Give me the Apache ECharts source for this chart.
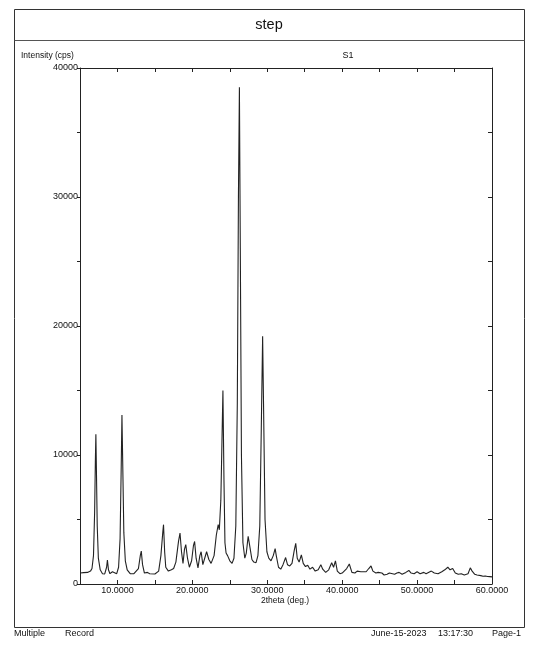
<!DOCTYPE html>
<html>
<head>
<meta charset="utf-8">
<script src="https://cdn.jsdelivr.net/npm/echarts@6/dist/echarts.min.js"></script>
<style>
html,body{margin:0;padding:0;background:#fff;}
#chart{width:534px;height:648px;}
</style>
</head>
<body>
<div id="chart"></div>
<script>
// 2theta (deg.) positions
const twoTheta = [
  5.00, 5.5, 6.0, 6.4, 6.6, 6.8, 6.95, 7.05, 7.12, 7.2, 7.3, 7.45, 7.7, 8.0, 8.3, 8.55, 8.66, 8.8, 9.0, 9.2, 9.33, 9.5,
  9.9, 10.15, 10.35, 10.5, 10.6, 10.7, 10.85, 11.05, 11.3, 11.5, 11.7, 12.2, 12.8, 13.05, 13.18, 13.35, 13.6, 14.0, 14.3, 15.0, 15.5,
  15.8, 16.05, 16.15, 16.3, 16.45, 16.6, 16.8, 17.2, 17.5, 17.8, 18.15, 18.35, 18.55, 18.75, 18.95, 19.12, 19.35, 19.6, 19.9, 20.15,
  20.3, 20.5, 20.75, 21.0, 21.17, 21.4, 21.65, 21.9, 22.02, 22.2, 22.5, 22.9, 23.2, 23.45, 23.6, 23.8, 23.95, 24.08, 24.22, 24.35,
  24.5, 24.7, 25.0, 25.3, 25.55, 25.8, 26.0, 26.15, 26.28, 26.4, 26.55, 26.75, 27.0, 27.2, 27.45, 27.55, 27.7, 27.95, 28.2, 28.5,
  28.75, 29.0, 29.2, 29.38, 29.5, 29.7, 29.95, 30.2, 30.5, 30.8, 31.05, 31.2, 31.5, 31.8, 32.1, 32.45, 32.7, 33.0, 33.3, 33.6,
  33.8, 34.0, 34.25, 34.55, 34.8, 35.1, 35.4, 35.7, 36.05, 36.4, 36.8, 37.15, 37.4, 37.8, 38.2, 38.6, 38.85, 39.1, 39.35, 39.7,
  40.0, 40.2, 40.6, 40.95, 41.3, 41.7, 42.0, 42.2, 42.5, 42.7, 43.2, 43.55, 43.85, 44.1, 44.5, 44.8, 45.0, 45.3, 45.6, 46.0, 46.3, 46.5, 47.0, 47.3, 47.6, 48.0, 48.5,
  48.9, 49.2, 49.6, 50.0, 50.4, 50.9, 51.2, 51.4, 51.9, 52.3, 52.8, 53.3, 53.7, 54.1, 54.4, 54.75, 55.1, 55.5, 55.9, 56.3, 56.8,
  57.1, 57.35, 57.7, 58.0, 58.2, 58.5, 58.8, 59.1, 59.4, 59.7, 60.0
];
// Intensity (cps)
const intensity = [
  850, 880, 900, 1000, 1200, 2200, 5500, 9500, 11600, 8500, 4500, 2000, 1100, 800, 780, 1300, 1850, 1100, 800, 950, 950, 800,
  800, 1300, 3500, 9000, 13100, 9500, 4000, 1800, 1100, 1000, 800, 800, 1200, 2200, 2550, 1500, 850, 900, 800, 780, 1000,
  2200, 4000, 4600, 2500, 1300, 1350, 1000, 1100, 1200, 1700, 3300, 3950, 2500, 1600, 2700, 3050, 2000, 1300, 1800, 3000,
  3300, 2000, 1250, 2200, 2500, 1500, 1400, 2500, 2650, 1900, 1600, 2200, 3800, 4600, 4200, 6500, 11000, 15000, 8000, 3200,
  2400, 2200, 1800, 1600, 2000, 4500, 14000, 30000, 38500, 26000, 10000, 3200, 2000, 2400, 3700, 3800, 2800, 1900, 1700, 1650,
  2200, 4500, 12000, 19200, 14000, 5000, 2500, 2000, 1800, 2200, 2750, 2200, 1300, 1150, 1500, 2050, 1500, 1400, 1600, 2600,
  3150, 2000, 1700, 2250, 1600, 1350, 1450, 1150, 1300, 1000, 1100, 1500, 1150, 900, 1100, 1650, 1300, 1800, 1000, 800,
  850, 900, 1200, 1550, 900, 850, 1000, 900, 950, 850, 950, 1200, 1400, 1000, 850, 900, 800, 850, 700, 750, 850, 800, 750, 850, 900, 750, 900,
  1050, 850, 800, 950, 800, 900, 800, 800, 1000, 850, 800, 950, 1100, 1300, 1100, 1200, 850, 750, 800, 700, 800,
  1250, 1000, 750, 700, 650, 650, 600, 620, 580, 570, 550
];
const xTicksMajor = [10, 20, 30, 40, 50, 60];
const yTicksMajor = [0, 10000, 20000, 30000, 40000];

const FONT = "'Liberation Sans', Arial, sans-serif";
const chart = echarts.init(document.getElementById('chart'), null, {renderer: 'canvas'});
const data = twoTheta.map((t, i) => [t, intensity[i]]);
const axisCol = '#222';

const option = {
  animation: false,
  backgroundColor: '#fff',
  grid: {left: 80, right: 42, top: 68, bottom: 64, containLabel: false},
  xAxis: [
    {
      type: 'value', min: 5, max: 60, interval: 5, position: 'bottom',
      axisLine: {show: true, onZero: false, lineStyle: {color: axisCol, width: 1}},
      axisTick: {show: true, inside: true, length: 4, lineStyle: {color: axisCol}},
      splitLine: {show: false},
      axisLabel: {
        margin: 2, fontSize: 9, fontFamily: FONT, color: '#111',
        formatter: v => xTicksMajor.includes(v) ? v.toFixed(4) : ''
      }
    },
    {
      type: 'value', min: 5, max: 60, interval: 5, position: 'top',
      axisLine: {show: true, onZero: false, lineStyle: {color: axisCol, width: 1}},
      axisTick: {show: true, inside: true, length: 4, lineStyle: {color: axisCol}},
      splitLine: {show: false},
      axisLabel: {show: false}
    }
  ],
  yAxis: [
    {
      type: 'value', min: 0, max: 40000, interval: 5000, position: 'left',
      axisLine: {show: true, onZero: false, lineStyle: {color: axisCol, width: 1}},
      axisTick: {show: true, inside: false, length: 3, lineStyle: {color: axisCol}},
      splitLine: {show: false},
      axisLabel: {
        margin: 2, fontSize: 9, fontFamily: FONT, color: '#111',
        formatter: v => yTicksMajor.includes(v) ? String(v) : ''
      }
    },
    {
      type: 'value', min: 0, max: 40000, interval: 5000, position: 'right',
      axisLine: {show: true, onZero: false, lineStyle: {color: axisCol, width: 1}},
      axisTick: {show: true, inside: true, length: 4, lineStyle: {color: axisCol}},
      splitLine: {show: false},
      axisLabel: {show: false}
    }
  ],
  series: [{
    type: 'line', data: data, xAxisIndex: 0, yAxisIndex: 0,
    showSymbol: false, symbol: 'none', smooth: false,
    lineStyle: {color: '#222', width: 1.1}
  }],
  graphic: [
    {type: 'rect', shape: {x: 14.5, y: 9.5, width: 510, height: 618}, style: {fill: 'none', stroke: '#333', lineWidth: 1}, silent: true},
    {type: 'line', shape: {x1: 14.5, y1: 40.5, x2: 524.5, y2: 40.5}, style: {stroke: '#555', lineWidth: 1}, silent: true},
    {type: 'text', x: 269, y: 24.5, style: {text: 'step', fontSize: 14.5, fontFamily: FONT, fill: '#111', align: 'center', verticalAlign: 'middle'}},
    {type: 'text', x: 21, y: 55.5, style: {text: 'Intensity (cps)', fontSize: 8.5, fontFamily: FONT, fill: '#111', align: 'left', verticalAlign: 'middle'}},
    {type: 'text', x: 348, y: 56, style: {text: 'S1', fontSize: 9, fontFamily: FONT, fill: '#111', align: 'center', verticalAlign: 'middle'}},
    {type: 'text', x: 285, y: 601, style: {text: '2theta (deg.)', fontSize: 8.5, fontFamily: FONT, fill: '#111', align: 'center', verticalAlign: 'middle'}},
    {type: 'text', x: 14, y: 634, style: {text: 'Multiple', fontSize: 9, fontFamily: FONT, fill: '#111', align: 'left', verticalAlign: 'middle'}},
    {type: 'text', x: 65, y: 634, style: {text: 'Record', fontSize: 9, fontFamily: FONT, fill: '#111', align: 'left', verticalAlign: 'middle'}},
    {type: 'text', x: 371, y: 634, style: {text: 'June-15-2023', fontSize: 9, fontFamily: FONT, fill: '#111', align: 'left', verticalAlign: 'middle'}},
    {type: 'text', x: 438, y: 634, style: {text: '13:17:30', fontSize: 9, fontFamily: FONT, fill: '#111', align: 'left', verticalAlign: 'middle'}},
    {type: 'text', x: 492, y: 634, style: {text: 'Page-1', fontSize: 9, fontFamily: FONT, fill: '#111', align: 'left', verticalAlign: 'middle'}}
  ]
};
chart.setOption(option);
</script>
</body>
</html>
